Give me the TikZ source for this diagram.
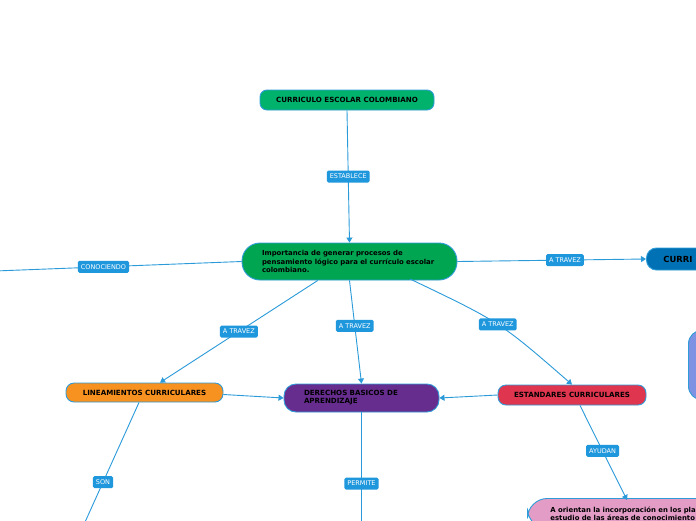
\documentclass[tikz,border=0pt]{standalone}
\usepackage{fontspec}
\setmainfont{DejaVu Sans}
\usetikzlibrary{arrows.meta,calc}
\definecolor{lineblue}{HTML}{2A9AD9}
\definecolor{lblblue}{HTML}{1F97DD}
\definecolor{brdblue}{HTML}{2F9CD8}
\definecolor{topgreen}{HTML}{00B26B}
\definecolor{midgreen}{HTML}{00A551}
\definecolor{orangeC}{HTML}{F7911F}
\definecolor{purpleC}{HTML}{662D8F}
\definecolor{redC}{HTML}{DF354E}
\definecolor{pinkC}{HTML}{E29CC6}
\definecolor{periC}{HTML}{7D92E2}
\definecolor{darkblueC}{HTML}{0071B5}
\tikzset{
  box/.style={draw=brdblue, line width=0.9pt, text=black, font=\bfseries\fontsize{7.1}{8}\selectfont, inner sep=0pt},
  lbl/.style={fill=lblblue, text=white, font=\fontsize{6.5}{7}\selectfont, rounded corners=1.5pt, inner xsep=3pt, inner ysep=0pt, minimum height=12pt},
  conn/.style={draw=lineblue, line width=0.9pt},
  arr/.style={conn, -{Triangle[width=6pt,length=5pt]}},
}
\begin{document}
\begin{tikzpicture}[x=1pt,y=-1pt]
\useasboundingbox (0,0) rectangle (696,520);
\clip (0,0) rectangle (696,520);
\fill[white] (0,0) rectangle (696,520);

% nodes
\node[box, fill=topgreen, minimum width=174pt, minimum height=20pt, rounded corners=7pt] (top) at (347,100) {CURRICULO ESCOLAR COLOMBIANO};
\node[box, fill=midgreen, text width=180pt, align=left, inner xsep=17.5pt, minimum height=37pt, rounded corners=18pt, font=\bfseries\fontsize{6.9}{8.4}\selectfont] (central) at (349.5,261.5) {\hspace*{2.5pt}Importancia de generar procesos de\\\hspace*{2.5pt}pensamiento lógico para el currículo escolar\\\hspace*{2.5pt}colombiano.};
\node[box, fill=darkblueC, anchor=west, text width=120pt, align=left, inner xsep=17pt, minimum height=22pt, rounded corners=10pt, font=\bfseries\fontsize{8.4}{10}\selectfont] (curri) at (646,259) {CURRI};
\node[box, fill=periC, anchor=west, minimum width=60pt, minimum height=70pt, rounded corners=14pt] (peri) at (688,365) {};
\node[box, fill=orangeC, minimum width=157pt, minimum height=19pt, rounded corners=8pt] (lin) at (144.5,392.5) {LINEAMIENTOS CURRICULARES};
\node[box, fill=purpleC, text width=125pt, align=left, inner xsep=15pt, minimum height=28pt, rounded corners=12pt, font=\bfseries\fontsize{7.1}{8}\selectfont] (der) at (361.5,398) {\hspace*{5pt}DERECHOS BASICOS DE\\\hspace*{5pt}APRENDIZAJE};
\node[box, fill=redC, minimum width=148pt, minimum height=20pt, rounded corners=8pt] (est) at (572,395) {ESTANDARES CURRICULARES};
\node[box, fill=pinkC, anchor=north west, text width=200pt, align=left, inner xsep=23pt, inner ysep=4pt, minimum height=30pt, rounded corners=20pt, font=\bfseries\fontsize{6.9}{8.1}\selectfont] (pink) at (527,498) {A orientan la incorporación en los pla\\estudio de las áreas de conocimiento};

\coordinate (leftend) at (-5,271);
\coordinate (sonend) at (81,531);
\coordinate (permend) at (361.5,531);

% connectors
\draw[arr] (top.south) -- node[lbl, pos=0.5] {ESTABLECE} (central.north);
\draw[conn] (central.west) -- node[lbl, pos=0.56] {CONOCIENDO} (leftend);
\draw[arr] (central.east) -- node[lbl, pos=0.57] {A TRAVEZ} (curri.west);
\draw[arr] ($(central.south west)!0.353!(central.south east)$) -- node[lbl, pos=0.5] {A TRAVEZ} ($(lin.north)+(15.5,0)$);
\draw[arr] (central.south) -- node[lbl, pos=0.44] {A TRAVEZ} (der.north);
\draw[arr] ($(central.south west)!0.78!(central.south east)+(0,-1.5)$) .. controls (500,322) .. node[lbl, pos=0.5] {A TRAVEZ} (est.north);
\draw[arr] ($(lin.east)+(0,2)$) -- (der.west);
\draw[arr] (est.west) -- (der.east);
\draw[conn] ($(lin.south)+(-5.5,0)$) -- node[lbl, pos=0.62] {SON} (sonend);
\draw[conn] (der.south) -- node[lbl, pos=0.6] {PERMITE} (permend);
\draw[arr] ($(est.south)+(8,0)$) -- node[lbl, pos=0.48] {AYUDAN} ($(pink.north west)+(100,2)$);
\end{tikzpicture}
\end{document}
